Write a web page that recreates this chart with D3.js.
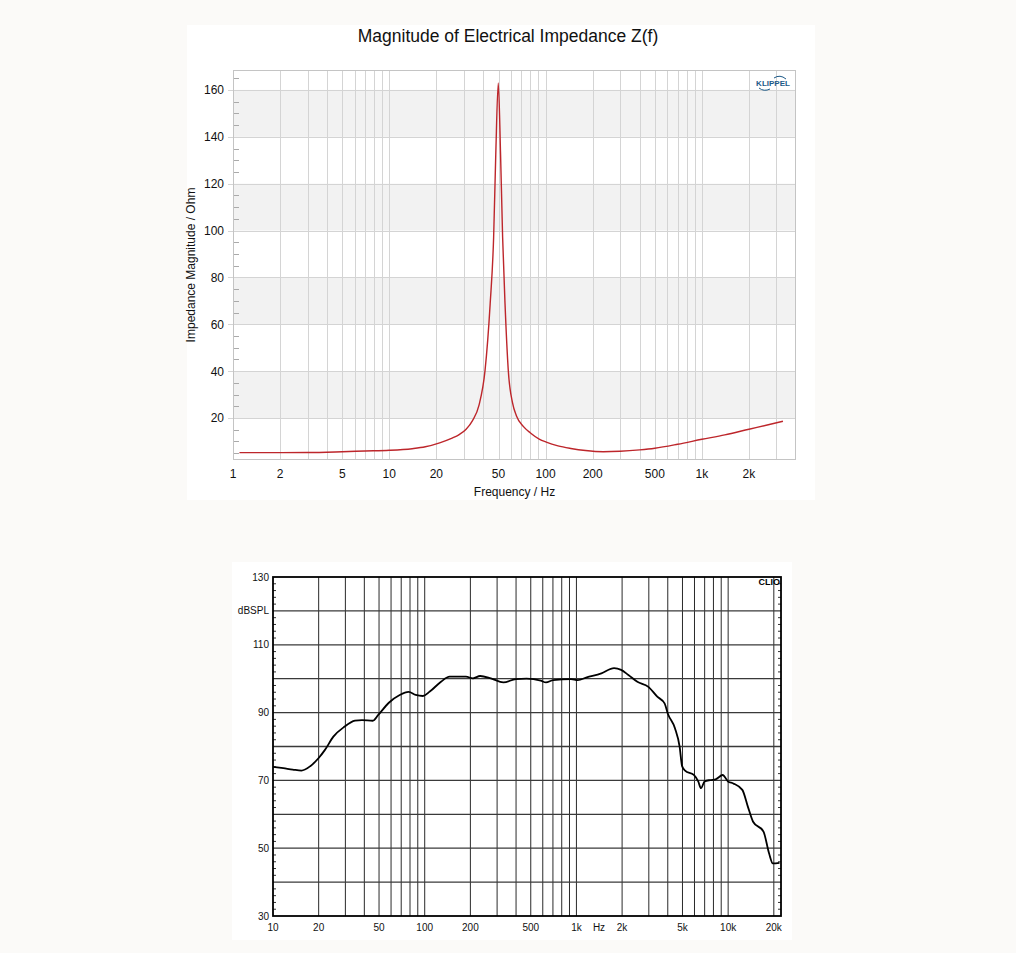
<!DOCTYPE html>
<html>
<head>
<meta charset="utf-8">
<script src="https://cdn.jsdelivr.net/npm/d3@7"></script>
<style>
  html, body { margin: 0; padding: 0; background: #fbfaf8; }
  svg { display: block; }
  text { font-family: "Liberation Sans", Arial, sans-serif; }
</style>
</head>
<body>
<svg id="chart" width="1016" height="953"></svg>
<script>
// ---------- Data: impedance magnitude ----------
const zFreq = [1.1, 2, 3, 5, 7, 10, 14, 17, 21, 25, 28, 31, 34, 37.5, 41, 44.2, 46.5, 48, 49.8, 51.5, 53.1, 55, 57.7, 61.5, 65, 72, 80, 91, 101, 120, 145, 180, 234, 300, 400, 500, 700, 1000, 1400, 2000, 2700, 3300];
const zOhm  = [5.2, 5.2, 5.25, 5.6, 5.9, 6.2, 6.9, 7.7, 9.4, 11.3, 12.9, 15.2, 18.8, 25.5, 40.4, 68.8, 97, 132.6, 163, 132.6, 97, 68.8, 40.4, 26.3, 21.0, 16.4, 13.6, 11.0, 9.7, 8.1, 7.0, 6.1, 5.6, 5.8, 6.4, 7.1, 8.8, 10.9, 12.8, 15.2, 17.2, 18.6];
const zYTicks = [20, 40, 60, 80, 100, 120, 140, 160];
const zBands = [[20, 40], [60, 80], [100, 120], [140, 160]];
const zXTicks = [1, 2, 5, 10, 20, 50, 100, 200, 500, 1000, 2000];
const zXLabels = ["1", "2", "5", "10", "20", "50", "100", "200", "500", "1k", "2k"];

// ---------- Data: SPL response ----------
const splFreq = [10, 11.7, 13.5, 15.4, 17.6, 20, 22, 25, 29.5, 34.7, 38.6, 45.5, 49.4, 58, 68.4, 78.3, 87.2, 97.4, 108, 128, 146, 187, 208, 232, 273, 330, 399, 469, 582, 630, 702, 920, 1020, 1170, 1460, 1770, 1970, 2200, 2520, 2980, 3410, 3810, 4010, 4460, 4790, 4970, 5200, 5940, 6350, 6620, 7000, 7600, 8260, 9200, 9980, 10800, 12400, 13500, 14600, 17100, 18600, 19700, 21800];
const splDb   = [74.0, 73.6, 73.2, 72.9, 74.2, 76.6, 79.0, 82.9, 85.8, 87.6, 87.8, 87.6, 89.3, 92.9, 95.2, 96.1, 95.2, 94.9, 96.2, 99.1, 100.6, 100.6, 100.1, 100.8, 100.1, 98.9, 99.9, 100.0, 99.4, 98.9, 99.6, 99.9, 99.6, 100.4, 101.6, 103.1, 102.6, 101.1, 99.1, 97.6, 94.7, 92.7, 89.6, 85.4, 79.9, 74.2, 72.9, 71.6, 69.7, 67.7, 69.7, 70.1, 70.3, 71.6, 69.7, 69.1, 67.2, 62.2, 57.8, 54.9, 48.5, 45.5, 45.7];
const splYLabels = [[130, "130"], [120, "dBSPL"], [110, "110"], [90, "90"], [70, "70"], [50, "50"], [30, "30"]];
const splXTicks = [10, 20, 50, 100, 200, 500, 1000, 2000, 5000, 10000, 20000];
const splXLabels = ["10", "20", "50", "100", "200", "500", "1k", "2k", "5k", "10k", "20k"];

const svg = d3.select("#chart");

// ================= TOP CHART =================
(function () {
  const L = 233, R = 796, T = 70, B = 460;
  svg.append("rect").attr("x", 187).attr("y", 25).attr("width", 628).attr("height", 475).attr("fill", "#fff");

  const x = d3.scaleLog().domain([1, 4000]).range([L, R]);
  const y = d3.scaleLinear().domain([2.07, 168.5]).range([B, T]);
  const g = svg.append("g");

  g.selectAll("rect.band").data(zBands).join("rect")
    .attr("x", L).attr("width", R - L)
    .attr("y", d => y(d[1])).attr("height", d => y(d[0]) - y(d[1]))
    .attr("fill", "#f2f2f2");

  const vx = [];
  for (let dec = 1; dec <= 1000; dec *= 10)
    for (let m = 1; m <= 9; m++) { const f = m * dec; if (f > 1 && f < 4000) vx.push(f); }
  g.selectAll("line.vg").data(vx).join("line")
    .attr("x1", d => Math.round(x(d)) + 0.5).attr("x2", d => Math.round(x(d)) + 0.5)
    .attr("y1", T).attr("y2", B)
    .attr("stroke", "#d4d4d4").attr("stroke-width", 1);

  g.selectAll("line.hg").data(zYTicks).join("line")
    .attr("x1", L - 5).attr("x2", R)
    .attr("y1", d => Math.round(y(d)) + 0.5).attr("y2", d => Math.round(y(d)) + 0.5)
    .attr("stroke", "#d4d4d4").attr("stroke-width", 1);

  const minor = d3.range(5, 168, 5).filter(v => v % 20 !== 0);
  g.selectAll("line.mt").data(minor).join("line")
    .attr("x1", L).attr("x2", L + 6)
    .attr("y1", d => Math.round(y(d)) + 0.5).attr("y2", d => Math.round(y(d)) + 0.5)
    .attr("stroke", "#aaa").attr("stroke-width", 1);

  g.append("rect").attr("x", L + 0.5).attr("y", T + 0.5).attr("width", R - L - 1).attr("height", B - T - 1)
    .attr("fill", "none").attr("stroke", "#c4c4c4").attr("stroke-width", 1);

  g.selectAll("text.yl").data(zYTicks).join("text")
    .attr("x", 224).attr("y", d => y(d) + 4.5)
    .attr("text-anchor", "end").attr("font-size", 12).attr("fill", "#111")
    .text(d => d);

  g.selectAll("text.xl").data(zXTicks).join("text")
    .attr("x", d => x(d)).attr("y", 478)
    .attr("text-anchor", "middle").attr("font-size", 12).attr("fill", "#111")
    .text((d, i) => zXLabels[i]);

  g.append("text").attr("x", (L + R) / 2).attr("y", 496).attr("text-anchor", "middle")
    .attr("font-size", 12).attr("fill", "#111").text("Frequency / Hz");
  g.append("text").attr("transform", `translate(195,${(T + B) / 2}) rotate(-90)`)
    .attr("text-anchor", "middle").attr("font-size", 12).attr("fill", "#111")
    .text("Impedance Magnitude / Ohm");
  g.append("text").attr("x", 508).attr("y", 42).attr("text-anchor", "middle")
    .attr("font-size", 17.5).attr("fill", "#111").text("Magnitude of Electrical Impedance Z(f)");

  const pts = zFreq.map((f, i) => [f, zOhm[i]]);
  const line = d3.line().x(d => x(d[0])).y(d => y(d[1])).curve(d3.curveMonotoneX);
  g.append("path").datum(pts).attr("d", line)
    .attr("fill", "none").attr("stroke", "#bd262b").attr("stroke-width", 1.4);

  const lg = g.append("g");
  lg.append("text").attr("x", 773).attr("y", 85.5).attr("text-anchor", "middle")
    .attr("font-size", 8).attr("font-weight", "bold").attr("fill", "#1d5a88").text("KLIPPEL");
  lg.append("path").attr("d", "M774,78 Q780,74 786,79").attr("fill", "none").attr("stroke", "#1d5a88").attr("stroke-width", 1);
  lg.append("path").attr("d", "M759,88 Q764,92 770,89").attr("fill", "none").attr("stroke", "#1d5a88").attr("stroke-width", 1);
})();

// ================= BOTTOM CHART =================
(function () {
  const L = 273, R = 781, T = 577, B = 916;
  svg.append("rect").attr("x", 232).attr("y", 562).attr("width", 560).attr("height", 378).attr("fill", "#fff");

  const x = d3.scaleLog().domain([10, 22300]).range([L, R]);
  const y = d3.scaleLinear().domain([30, 130]).range([B, T]);
  const g = svg.append("g");

  const vx = [];
  for (let dec = 10; dec <= 10000; dec *= 10)
    for (let m = 1; m <= 9; m++) { const f = m * dec; if (f > 10 && f <= 20000) vx.push(f); }
  g.selectAll("line.vg").data(vx).join("line")
    .attr("x1", d => x(d)).attr("x2", d => x(d))
    .attr("y1", T).attr("y2", B)
    .attr("stroke", "#2a2a2a").attr("stroke-width", 1);

  const hy = d3.range(40, 130, 10);
  g.selectAll("line.hg").data(hy).join("line")
    .attr("x1", L).attr("x2", R)
    .attr("y1", d => y(d)).attr("y2", d => y(d))
    .attr("stroke", "#3a3a3a").attr("stroke-width", 1.3);

  const minor = d3.range(32, 130, 2).filter(v => v % 10 !== 0);
  g.selectAll("line.ml").data(minor).join("line")
    .attr("x1", L).attr("x2", L + 3).attr("y1", d => y(d)).attr("y2", d => y(d))
    .attr("stroke", "#333").attr("stroke-width", 1);
  g.selectAll("line.mr").data(minor).join("line")
    .attr("x1", R - 3).attr("x2", R).attr("y1", d => y(d)).attr("y2", d => y(d))
    .attr("stroke", "#333").attr("stroke-width", 1);

  g.append("rect").attr("x", L).attr("y", T).attr("width", R - L).attr("height", B - T)
    .attr("fill", "none").attr("stroke", "#000").attr("stroke-width", 1.8);

  g.selectAll("text.yl").data(splYLabels).join("text")
    .attr("x", 269).attr("y", d => y(d[0]) + 3.5)
    .attr("text-anchor", "end").attr("font-size", 10).attr("fill", "#111")
    .text(d => d[1]);

  g.selectAll("text.xl").data(splXTicks).join("text")
    .attr("x", d => x(d)).attr("y", 931)
    .attr("text-anchor", "middle").attr("font-size", 10).attr("fill", "#111")
    .text((d, i) => splXLabels[i]);
  g.append("text").attr("x", 599).attr("y", 931).attr("text-anchor", "middle")
    .attr("font-size", 10).attr("fill", "#111").text("Hz");

  g.append("text").attr("x", 780).attr("y", 585).attr("text-anchor", "end")
    .attr("font-family", "'DejaVu Serif', serif").attr("font-weight", "bold")
    .attr("font-size", 9).attr("fill", "#000").text("CLIO");

  const pts = splFreq.map((f, i) => [f, splDb[i]]);
  const line = d3.line().x(d => x(d[0])).y(d => y(d[1])).curve(d3.curveMonotoneX);
  g.append("path").datum(pts).attr("d", line)
    .attr("fill", "none").attr("stroke", "#000").attr("stroke-width", 1.8);
})();
</script>
</body>
</html>
